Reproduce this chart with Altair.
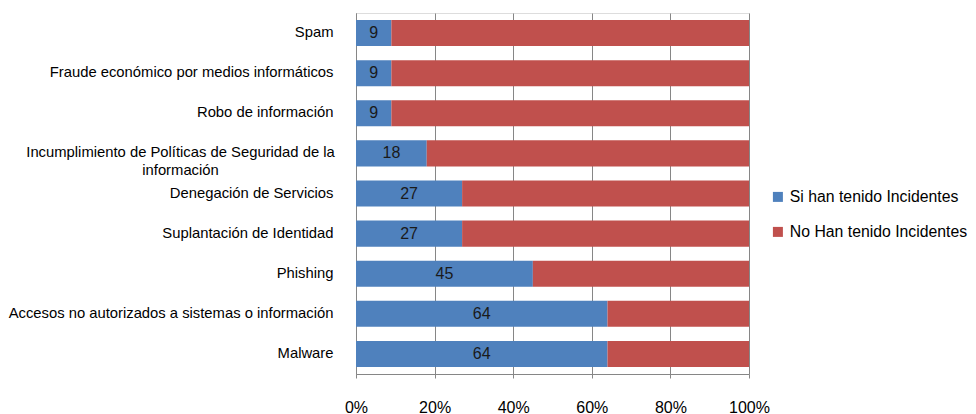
import altair as alt
import pandas as pd

categories = [
    "Spam",
    "Fraude económico por medios informáticos",
    "Robo de información",
    "Incumplimiento de Políticas de Seguridad de la\ninformación",
    "Denegación de Servicios",
    "Suplantación de Identidad",
    "Phishing",
    "Accesos no autorizados a sistemas o información",
    "Malware",
]
si_values = [9, 9, 9, 18, 27, 27, 45, 64, 64]
no_values = [91, 91, 91, 82, 73, 73, 55, 36, 36]
series = ["Si han tenido Incidentes", "No Han tenido Incidentes"]
colors = ["#4F81BD", "#C0504D"]

rows = []
for c, s, n in zip(categories, si_values, no_values):
    rows.append({"cat": c, "serie": series[0], "val": s, "ord": 0, "label": str(s)})
    rows.append({"cat": c, "serie": series[1], "val": n, "ord": 1, "label": ""})
df = pd.DataFrame(rows)

FONT = "Liberation Sans"
WRAPPED = "indexof(datum.value, 'Incumplimiento') == 0"

y_enc = alt.Y(
    "cat:N",
    sort=categories,
    title=None,
    scale=alt.Scale(paddingInner=0.35, paddingOuter=0.175),
    axis=alt.Axis(
        labelExpr="split(datum.label, '\\n')",
        labelFont=FONT,
        labelFontSize=14.8,
        labelColor="#000000",
        labelAlign={"condition": {"test": WRAPPED, "value": "center"}, "value": "right"},
        labelPadding={"condition": {"test": WRAPPED, "value": 176}, "value": 23},
        labelLimit=400,
        ticks=False,
        domainColor="#868686",
        grid=False,
        labelLineHeight=18,
    ),
)

x_enc = alt.X(
    "val:Q",
    stack="normalize",
    title=None,
    scale=alt.Scale(domain=[0, 1], nice=False),
    axis=alt.Axis(
        format="%",
        values=[0, 0.2, 0.4, 0.6, 0.8, 1.0],
        labelFont=FONT,
        labelFontSize=16,
        labelColor="#000000",
        labelPadding=21,
        labelFlush=False,
        labelOverlap=False,
        tickSize=4,
        tickColor="#868686",
        domainColor="#868686",
        gridColor="#868686",
        grid=True,
    ),
)

bars = alt.Chart(df).mark_bar().encode(
    y=y_enc,
    x=x_enc,
    color=alt.Color(
        "serie:N",
        scale=alt.Scale(domain=series, range=colors),
        sort=series,
        legend=alt.Legend(
            title=None,
            orient="none",
            legendX=414,
            legendY=176,
            symbolType="square",
            symbolSize=100,
            symbolStrokeWidth=0,
            labelFont=FONT,
            labelFontSize=15.8,
            labelColor="#000000",
            labelLimit=300,
            rowPadding=18,
            labelOffset=4,
        ),
    ),
    order=alt.Order("ord:Q"),
)

text = alt.Chart(df).transform_filter("datum.ord == 0").mark_text(
    font=FONT, fontSize=16, color="#1a1a1a"
).encode(
    y=alt.Y("cat:N", sort=categories),
    x=alt.X("mid:Q", scale=alt.Scale(domain=[0, 1], nice=False)),
    text="label:N",
).transform_calculate(mid="datum.val / 200")

chart = (
    alt.layer(bars, text)
    .properties(width=393, height=361, padding={"left": 0, "top": 5, "right": 0, "bottom": 0})
    .configure_view(stroke=None)
    .configure(background="#ffffff")
)

chart.save("out.html", embed_options={"renderer": "svg", "actions": False})
